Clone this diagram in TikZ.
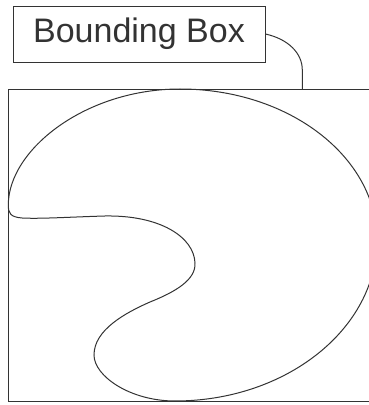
\documentclass[tikz,border=0pt]{standalone}
\usepackage{fontspec}
\setmainfont{Liberation Sans}
\usetikzlibrary{positioning}
\definecolor{inkgray}{RGB}{51,51,51}

\begin{document}
\begin{tikzpicture}[x=1pt, y=1pt, line width=1pt, draw=inkgray,
    labelbox/.style={draw=inkgray, line width=0.9pt, minimum width=252pt,
      minimum height=56pt, inner sep=0pt, text=inkgray,
      font=\fontsize{34}{37}\selectfont}]

  \useasboundingbox (0,0) rectangle (369,405);
  \clip (0,0) rectangle (369,405);

  % ---- label box ----
  \node[labelbox] (label) at (139,371) {Bounding Box\hspace{10pt}};

  % ---- bounding rectangle ----
  \draw[inkgray] (8.3,3.3) rectangle (375,315.7);
  \coordinate (boxtop) at (302.3,315.7);

  % ---- connector ----
  \draw[inkgray] (label.east) .. controls (288,366) and (302.3,352) ..
    (302.3,335) -- (boxtop);

  % ---- blob ----
  \draw[inkgray] (180,316) .. controls (289,316) and (377,248) .. (377,165)
    .. controls (377,76) and (286,4) .. (175,4)
    .. controls (130,4) and (94,29) .. (94,50)
    .. controls (94,75) and (125,92) .. (150,103)
    .. controls (175,113) and (196,125) .. (195,142)
    .. controls (194,168) and (160,190) .. (105,189)
    .. controls (70,188) and (40,186) .. (22,187)
    .. controls (10,188) and (8.3,192) .. (8.3,200)
    .. controls (8.3,255) and (85,316) .. (180,316) -- cycle;

\end{tikzpicture}
\end{document}
